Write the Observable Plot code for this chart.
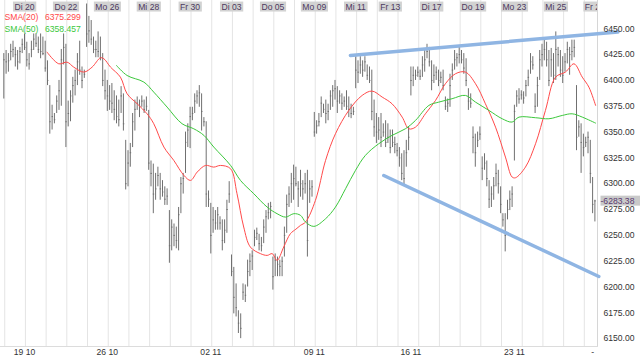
<!DOCTYPE html>
<html><head><meta charset="utf-8">
<script src="https://cdn.jsdelivr.net/npm/d3@7"></script>
<script src="https://cdn.jsdelivr.net/npm/@observablehq/plot@0.6"></script>
<style>
html,body{margin:0;padding:0;background:#fff;}
#chart svg{display:block;}
</style></head><body><div id="chart"></div>
<script>
// hourly bars: [high, low, close]
const bars = [
[6426,6382,6420],[6429,6406,6418],[6426,6408,6419],[6435,6419,6428],[6438,6422,6430],[6432,6413,6425],[6429,6410,6418],[6432,6416,6428],[6440,6426,6435],[6445,6429,6432],
[6437,6413,6420],[6426,6410,6416],[6438,6422,6430],[6445,6429,6440],[6445,6432,6436],[6442,6426,6430],[6445,6421,6428],[6442,6424,6426],[6438,6408,6412],[6419,6395,6400],
[6395,6348,6360],[6376,6352,6365],[6368,6358,6362],[6385,6368,6380],[6400,6371,6390],[6430,6375,6420],[6445,6415,6432],[6435,6335,6360],[6380,6355,6368],[6390,6360,6385],
[6403,6378,6395],[6410,6385,6400],[6426,6395,6418],[6438,6405,6410],[6413,6392,6400],[6410,6402,6406],[6474,6432,6445],[6462,6436,6448],[6458,6434,6440],[6442,6426,6430],
[6438,6422,6430],[6447,6422,6428],[6442,6419,6422],[6426,6394,6400],[6410,6381,6390],[6400,6370,6385],[6395,6371,6380],[6397,6368,6378],[6390,6361,6372],[6385,6358,6365],
[6381,6355,6362],[6394,6368,6385],[6387,6351,6358],[6342,6294,6300],[6332,6297,6320],[6339,6316,6330],[6368,6335,6360],[6381,6351,6372],[6384,6371,6378],[6381,6364,6375],
[6385,6374,6380],[6381,6368,6372],[6384,6370,6375],[6371,6313,6320],[6322,6297,6310],[6319,6271,6290],[6310,6284,6295],[6316,6297,6308],[6310,6284,6295],[6303,6287,6292],
[6297,6279,6285],[6295,6279,6288],[6274,6223,6240],[6265,6235,6258],[6261,6239,6250],[6258,6237,6245],[6277,6235,6270],[6306,6271,6300],[6310,6290,6305],[6350,6310,6340],
[6358,6335,6352],[6374,6334,6365],[6374,6361,6368],[6387,6368,6380],[6390,6377,6385],[6395,6374,6388],[6387,6351,6370],[6364,6355,6360],[6360,6277,6290],[6293,6277,6285],
[6281,6232,6250],[6277,6252,6265],[6274,6255,6262],[6277,6255,6270],[6268,6255,6262],[6265,6235,6245],[6265,6242,6255],[6284,6252,6275],[6302,6281,6290],[6231,6210,6215],
[6219,6174,6190],[6203,6171,6180],[6177,6155,6165],[6174,6150,6160],[6203,6187,6195],[6202,6185,6192],[6226,6200,6215],[6232,6210,6225],[6235,6216,6230],[6255,6239,6248],
[6257,6245,6252],[6251,6235,6242],[6248,6234,6240],[6265,6242,6258],[6274,6252,6268],[6281,6265,6272],[6282,6266,6278],[6229,6197,6210],[6232,6210,6226],[6229,6210,6222],
[6226,6210,6220],[6229,6210,6225],[6258,6229,6250],[6289,6252,6280],[6297,6277,6290],[6310,6281,6300],[6318,6284,6305],[6316,6297,6300],[6302,6277,6295],[6313,6287,6300],
[6303,6284,6295],[6310,6290,6300],[6313,6229,6245],[6303,6281,6295],[6303,6287,6297],[6369,6345,6350],[6361,6348,6356],[6368,6355,6360],[6384,6364,6378],[6377,6368,6372],
[6381,6358,6368],[6377,6361,6370],[6390,6371,6385],[6395,6374,6390],[6400,6381,6392],[6394,6368,6380],[6390,6377,6385],[6387,6371,6378],[6384,6374,6380],[6390,6371,6375],
[6384,6364,6372],[6377,6363,6368],[6374,6366,6370],[6423,6392,6410],[6419,6397,6408],[6423,6406,6415],[6419,6403,6410],[6423,6408,6418],[6415,6400,6405],[6413,6397,6400],
[6410,6361,6370],[6381,6345,6355],[6368,6339,6350],[6364,6342,6352],[6368,6335,6345],[6358,6345,6350],[6361,6335,6340],[6358,6339,6345],[6352,6329,6335],[6352,6335,6340],
[6345,6329,6338],[6339,6326,6332],[6335,6316,6325],[6329,6303,6310],[6332,6298,6305],[6342,6316,6330],[6355,6332,6345],[6413,6385,6400],[6413,6394,6405],[6410,6400,6405],
[6413,6403,6408],[6410,6400,6404],[6423,6403,6415],[6429,6408,6420],[6435,6421,6428],[6432,6413,6418],[6419,6390,6400],[6415,6397,6405],[6413,6400,6408],[6410,6394,6400],
[6408,6397,6403],[6410,6390,6395],[6384,6371,6375],[6382,6369,6378],[6406,6374,6395],[6416,6400,6410],[6429,6410,6420],[6426,6413,6422],[6432,6416,6425],[6429,6416,6420],
[6426,6406,6412],[6421,6394,6400],[6392,6371,6380],[6387,6373,6378],[6355,6329,6345],[6348,6316,6330],[6350,6335,6342],[6355,6342,6348],[6326,6303,6315],[6329,6313,6320],
[6322,6297,6305],[6303,6276,6285],[6297,6277,6290],[6306,6284,6298],[6319,6297,6310],[6313,6290,6300],[6297,6271,6280],[6271,6258,6265],[6271,6234,6250],[6284,6265,6275],
[6293,6274,6285],[6297,6277,6290],[6376,6322,6370],[6390,6374,6385],[6392,6377,6382],[6390,6381,6386],[6389,6377,6383],[6400,6384,6395],[6410,6394,6403],[6426,6406,6418],
[6423,6410,6415],[6387,6368,6375],[6403,6374,6395],[6429,6400,6420],[6435,6413,6425],[6439,6419,6430],[6437,6413,6420],[6429,6394,6400],[6431,6403,6420],[6426,6397,6405],
[6447,6400,6430],[6432,6413,6425],[6429,6403,6410],[6423,6397,6405],[6426,6408,6418],[6437,6416,6430],[6432,6405,6425],[6439,6419,6428],[6439,6422,6432],[6395,6332,6345],
[6361,6345,6355],[6358,6310,6340],[6348,6326,6335],[6345,6335,6340],[6350,6329,6345],[6342,6300,6310],[6306,6271,6280],[6284,6263,6283.38]
];

// moving averages: [bar, value]
const sma20 = [
[18.8,6427.4],[23.9,6416.1],[27.5,6417.7],[30.4,6412.9],[34.8,6408.1],[38.4,6412.9],[42,6421.9],[43.5,6421],[46.4,6412.9],[50.7,6403.2],
[53.6,6387.1],[58,6377.4],[62.3,6367.7],[65.2,6358.1],[69.6,6335.5],[73.9,6322.6],[78.3,6308.1],[81.2,6303.2],[84.1,6311.3],[87.7,6317.7],
[91.3,6316.1],[94.2,6317.7],[98.6,6314.5],[101.4,6290.3],[104.3,6258.1],[107.2,6238.7],[111.6,6232.3],[114.5,6230.6],[116.7,6232.3],[118.8,6225.8],
[121.7,6238.7],[124.6,6251.6],[127,6256],[129,6259.7],[131.2,6262.9],[135.5,6283.9],[139.9,6322.6],[144.2,6348.4],[150,6371],[155.8,6385.5],
[160.1,6389.7],[164.5,6383.9],[168.8,6377.4],[173.2,6364.5],[176.1,6353.2],[179,6354.8],[183.3,6367.7],[187.7,6380.6],[192,6396.8],[196.4,6406.5],
[200.7,6408.1],[205.1,6396.8],[209.4,6377.4],[213.8,6354.8],[218.1,6325.8],[221,6306.5],[222.5,6305.8],[226.8,6316.1],[231.2,6338.7],[235.5,6371],
[239.9,6403.2],[244.2,6408.1],[247.9,6416.1],[251.5,6403.2],[254.4,6393.5],[257.3,6375.8]
];
const sma50 = [
[49,6414.5],[53.6,6404.8],[60.9,6398.4],[65.2,6388.7],[71,6374.2],[77.5,6358.1],[82.6,6353.2],[87,6346.8],[91.3,6335.5],[98.6,6317.7],
[102.9,6303.2],[108.7,6290.3],[114.5,6277.4],[118.8,6271],[122.5,6267.7],[126.1,6271],[129,6269.4],[131.2,6262.9],[134.8,6258.7],[139.9,6266.1],
[144.2,6277.4],[148.6,6295.2],[152.9,6312.9],[157.2,6327.4],[163,6338.7],[168.8,6346.8],[174.6,6353.2],[179,6361.3],[184.8,6375.8],[189.1,6379],
[194.9,6382.3],[200.7,6385.5],[205.1,6379],[210.9,6371],[216.7,6362.9],[221,6359.7],[224,6364.5],[231.2,6363.9],[237,6362.9],[242.8,6366.1],
[247.1,6367.7],[251.5,6364.5],[257.3,6358.7]
];

const upperTrend = [[150.7,6424.2],[267,6447]];
const lowerTrend = [[165.2,6308],[258.7,6210.2]];

const dayLabels = ["Di 20","Do 22","Mo 26","Mi 28","Fr 30","Di 03","Do 05","Mo 09","Mi 11","Fr 13","Di 17","Do 19","Mo 23","Mi 25","Fr 27"];
const dayStartBars = [9,27,45,63,81,99,117,135,153,168,186,204,222,240,257];
const weekLabels = ["19 10","26 10","02 11","09 11","16 11","23 11","-"];
const weekBars = [9,45,90,135,177,222,256];
const priceTicks = [6150,6175,6200,6225,6250,6275,6300,6325,6350,6375,6400,6425,6450];
const legendNames = ["SMA(20)","SMA(50)"];
const legendValues = ["6375.299","6358.457"];
const lastClose = 6283.38;

const data = bars.map(([high, low, close], i) => ({i, high, low, close}));
const gridBars = d3.range(0.4, 258, 9);
const fmt = d3.format(".2f");
const RED = "#ff4a4a", GREEN = "#3cc83c", BLUE = "#8fb5e3", BAR = "#707070";

const chart = Plot.plot({
  width: 640, height: 356,
  marginLeft: 0, marginRight: 43, marginTop: 0, marginBottom: 10,
  style: {fontFamily: '"Liberation Sans", Arial, sans-serif', fontSize: "8.6px", background: "#fff", overflow: "visible"},
  x: {domain: [-1.435, 258.13], axis: null},
  y: {domain: [6142.4, 6477.4], axis: null},
  marks: [
    Plot.gridX(gridBars, {stroke: "#e4e4e4", strokeOpacity: 1}),
    Plot.frame({anchor: "right", stroke: "#d6d6d6"}),
    Plot.frame({anchor: "bottom", stroke: "#dcdcdc"}),
    Plot.ruleX(data, {x: "i", y1: "low", y2: "high", stroke: BAR, clip: true}),
    Plot.ruleY(data, {y: "close", x1: "i", x2: d => d.i + 0.6, stroke: BAR, clip: true}),
    Plot.line(sma20, {x: d => d[0], y: d => d[1], stroke: RED, strokeWidth: 1, curve: "catmull-rom"}),
    Plot.line(sma50, {x: d => d[0], y: d => d[1], stroke: GREEN, strokeWidth: 1, curve: "catmull-rom"}),
    Plot.line(upperTrend, {x: d => d[0], y: d => d[1], stroke: BLUE, strokeWidth: 3.5}),
    Plot.line(lowerTrend, {x: d => d[0], y: d => d[1], stroke: BLUE, strokeWidth: 3.5}),
    Plot.axisY({anchor: "right", ticks: priceTicks, tickFormat: fmt, tickSize: 0, tickPadding: 6, fill: "#333", label: null}),
    Plot.text(dayLabels, {x: (d, k) => dayStartBars[k], text: d => d, frameAnchor: "top", dy: 6.3, lineAnchor: "middle", fill: "#4d3a60", clip: true}),
    Plot.text(weekLabels, {x: (d, k) => weekBars[k], text: d => d, frameAnchor: "bottom", dy: 6, lineAnchor: "middle", fill: "#333"}),
    Plot.text([legendNames[0]], {text: d => d, frameAnchor: "top-left", dx: 4, dy: 16.5, lineAnchor: "middle", textAnchor: "start", fill: RED}),
    Plot.text([legendValues[0]], {text: d => d, frameAnchor: "top-left", dx: 44.5, dy: 16.5, lineAnchor: "middle", textAnchor: "start", fill: RED}),
    Plot.text([legendNames[1]], {text: d => d, frameAnchor: "top-left", dx: 4, dy: 28.7, lineAnchor: "middle", textAnchor: "start", fill: GREEN}),
    Plot.text([legendValues[1]], {text: d => d, frameAnchor: "top-left", dx: 44.5, dy: 28.7, lineAnchor: "middle", textAnchor: "start", fill: GREEN}),
    Plot.text([lastClose], {y: d => d, text: d => "-" + fmt(d), frameAnchor: "right", dx: 3, textAnchor: "start", lineAnchor: "middle", fill: "#5a3a70"})
  ]
});
document.getElementById("chart").appendChild(chart);

function addBg(match, fill, padX, padY, extraRight) {
  d3.select(chart).selectAll("text").filter(function() { return match(this.textContent); }).each(function() {
    const b = this.getBBox();
    const rect = document.createElementNS("http://www.w3.org/2000/svg", "rect");
    const t = this.getAttribute("transform");
    if (t) rect.setAttribute("transform", t);
    rect.setAttribute("x", b.x - padX);
    rect.setAttribute("y", b.y - padY);
    rect.setAttribute("width", b.width + 2 * padX + extraRight);
    rect.setAttribute("height", b.height + 2 * padY);
    rect.setAttribute("fill", fill);
    this.parentNode.insertBefore(rect, this);
  });
}
const daySet = new Set(dayLabels);
addBg(s => daySet.has(s), "#d2d2d2", 1.5, 0, 0);
addBg(s => s === "-" + fmt(lastClose), "#c9c9c9", 0, 0, 6);
</script>
</body></html>
